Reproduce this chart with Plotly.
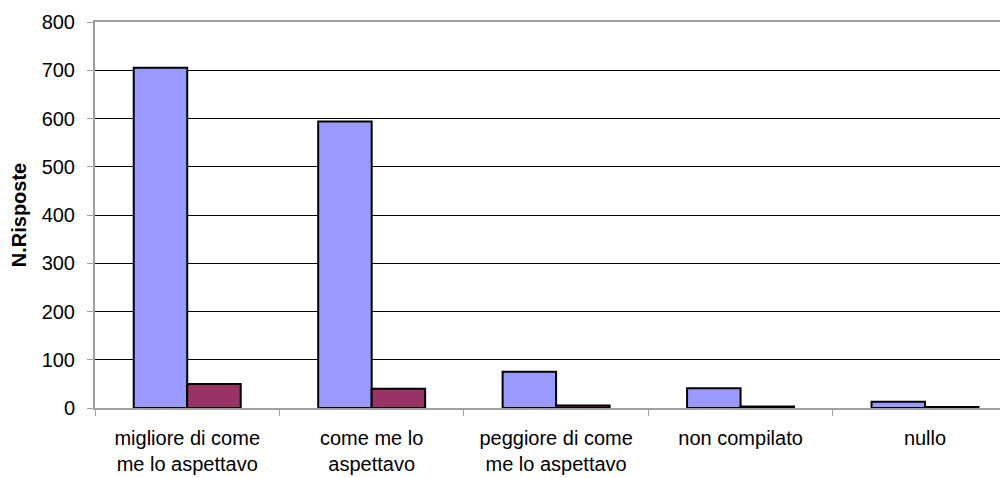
import plotly.graph_objects as go

categorie = [
    "migliore di come<br>me lo aspettavo",
    "come me lo<br>aspettavo",
    "peggiore di come<br>me lo aspettavo",
    "non compilato",
    "nullo",
]
serie_a = [705, 594, 75, 41, 13]
serie_b = [50, 40, 5, 3, 2]

COLOR_A = "#9999ff"
COLOR_B = "#993366"
GRIGIO = "#a0a0a0"
FONT = "Liberation Sans, Arial, sans-serif"

fig = go.Figure()
fig.add_trace(go.Bar(x=categorie, y=serie_a, name="A", marker=dict(color=COLOR_A, line=dict(color="black", width=2))))
fig.add_trace(go.Bar(x=categorie, y=serie_b, name="B", marker=dict(color=COLOR_B, line=dict(color="black", width=2))))

# la pagina ha 8px di margine: coordinate spostate di conseguenza
fig.update_layout(
    width=1000, height=470,
    margin=dict(l=87, r=0, t=14, b=70),
    paper_bgcolor="white", plot_bgcolor="white",
    barmode="group", bargap=0.42, bargroupgap=0,
    showlegend=False,
    font=dict(family=FONT, size=20, color="black"),
)
fig.update_xaxes(
    range=[-0.5, 4.45], showline=True, linecolor=GRIGIO, linewidth=2, mirror=True,
    ticks="outside", tickson="boundaries", ticklen=6, tickcolor=GRIGIO, tickwidth=1,
    showgrid=False, tickfont=dict(size=20), ticklabelstandoff=11,
)
fig.update_yaxes(
    range=[0, 800], dtick=100, showline=True, linecolor=GRIGIO, linewidth=2,
    ticks="outside", ticklen=6, tickcolor=GRIGIO, tickwidth=1,
    showgrid=True, gridcolor="black", gridwidth=1, zeroline=False,
    tickfont=dict(size=20), ticklabelstandoff=8,
    title=dict(text="<b>N.Risposte</b>", font=dict(size=20), standoff=10),
)

fig.write_html("out.html")
